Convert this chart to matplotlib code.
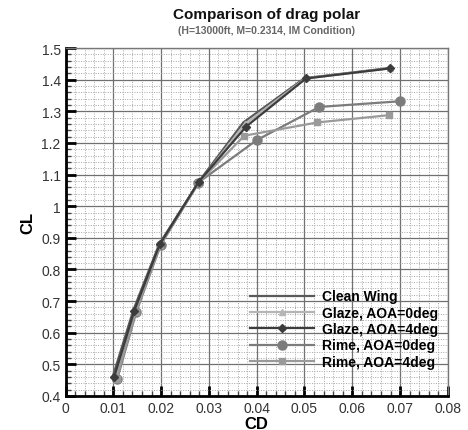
import matplotlib
matplotlib.use("Agg")
import matplotlib.pyplot as plt
from matplotlib.ticker import MultipleLocator, FuncFormatter

plt.rcParams['font.family'] = ['Liberation Sans', 'DejaVu Sans']

# Data
clean_cd = [0.0099, 0.0142, 0.0196, 0.0280, 0.0372, 0.0500, 0.0678]
clean_cl = [0.462, 0.672, 0.880, 1.080, 1.265, 1.405, 1.437]
glaze0_cd = [0.0104, 0.0146, 0.0198, 0.0281, 0.0375, 0.0502, 0.0679]
glaze0_cl = [0.458, 0.668, 0.878, 1.078, 1.259, 1.404, 1.436]
glaze4_cd = [0.0102, 0.0144, 0.0197, 0.0279, 0.0378, 0.0503, 0.0679]
glaze4_cl = [0.461, 0.670, 0.879, 1.078, 1.252, 1.404, 1.436]
rime0_cd = [0.0108, 0.0148, 0.0199, 0.0278, 0.0400, 0.0531, 0.0700]
rime0_cl = [0.453, 0.665, 0.877, 1.075, 1.209, 1.314, 1.332]
rime4_cd = [0.0107, 0.0147, 0.0198, 0.0277, 0.0374, 0.0527, 0.0677]
rime4_cl = [0.455, 0.667, 0.877, 1.073, 1.223, 1.265, 1.288]

fig = plt.figure(figsize=(4.68, 4.31), dpi=100)
ax = fig.add_axes([0.14, 0.079, 0.817, 0.807])

ax.set_xlim(0, 0.08)
ax.set_ylim(0.4, 1.5)
ax.xaxis.set_major_locator(MultipleLocator(0.01))
ax.xaxis.set_minor_locator(MultipleLocator(0.002))
ax.yaxis.set_major_locator(MultipleLocator(0.1))
ax.yaxis.set_minor_locator(MultipleLocator(0.02))
fmt = FuncFormatter(lambda v, p: ('%g' % round(v, 4)))
ax.xaxis.set_major_formatter(fmt)
ax.yaxis.set_major_formatter(fmt)

ax.grid(which='major', color='#707070', lw=0.9, ls='-', zorder=0)
ax.grid(which='minor', color='#a8a8a8', lw=0.7, ls=(0, (1, 1.5)), zorder=0)
ax.set_axisbelow(True)

ax.tick_params(which='major', direction='in', length=7, width=2, color='black',
               labelsize=10, labelcolor='#333333', top=False, right=False)
ax.tick_params(which='minor', direction='in', length=3.5, width=1, color='#444444',
               top=False, right=False)
for s in ['left', 'bottom']:
    ax.spines[s].set_linewidth(2)
    ax.spines[s].set_color('black')
for s in ['top', 'right']:
    ax.spines[s].set_linewidth(1)
    ax.spines[s].set_color('#777777')

ax.plot(clean_cd, clean_cl, color='#5a5a5a', lw=1.6, label='Clean Wing', zorder=3)
ax.plot(glaze0_cd, glaze0_cl, color='#b5b5b5', lw=1.6, marker='^', ms=4,
        label='Glaze, AOA=0deg', zorder=3)
ax.plot(glaze4_cd, glaze4_cl, color='#3c3c3c', lw=1.6, marker='D', ms=4,
        label='Glaze, AOA=4deg', zorder=4)
ax.plot(rime0_cd, rime0_cl, color='#7c7c7c', lw=1.6, marker='o', ms=6.5,
        label='Rime, AOA=0deg', zorder=3)
ax.plot(rime4_cd, rime4_cl, color='#9a9a9a', lw=1.6, marker='s', ms=4,
        label='Rime, AOA=4deg', zorder=3)

leg = ax.legend(loc='lower right', bbox_to_anchor=(1.0, 0.05), frameon=False,
                handlelength=4.6, handletextpad=0.6, labelspacing=0.17,
                prop={'weight': 'bold', 'size': 10}, borderaxespad=0.3)

ax.set_xlabel('CD', fontsize=12, fontweight='bold', labelpad=1)
ax.set_ylabel('CL', fontsize=12, fontweight='bold', labelpad=4)

fig.text(0.57, 0.965, 'Comparison of drag polar', ha='center', va='center',
         fontsize=11, fontweight='bold', color='#111111')
fig.text(0.57, 0.928, '(H=13000ft, M=0.2314, IM Condition)', ha='center', va='center',
         fontsize=7.5, fontweight='bold', color='#666666')

fig.savefig('out.png', dpi=100)
